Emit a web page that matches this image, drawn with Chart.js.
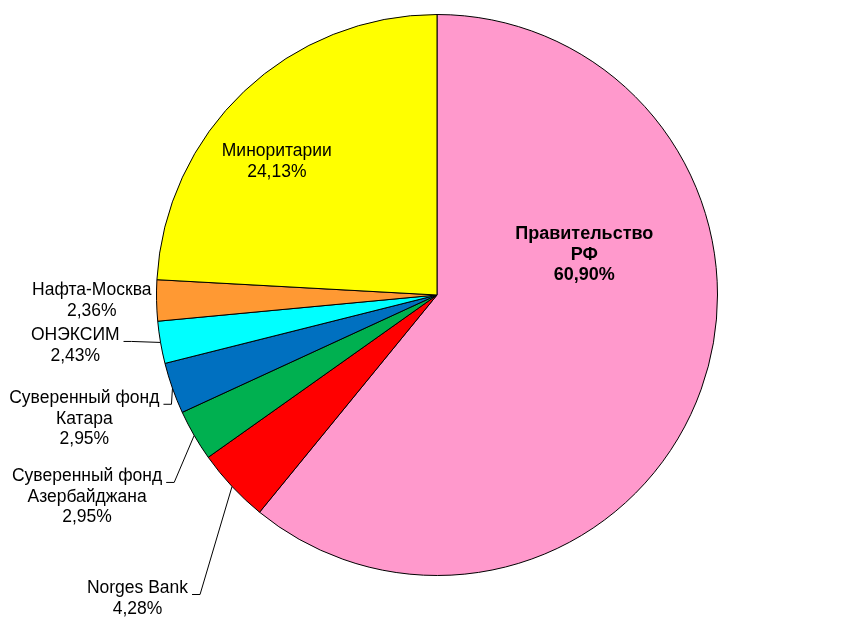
<!DOCTYPE html>
<html>
<head>
<meta charset="utf-8">
<script src="https://cdn.jsdelivr.net/npm/chart.js@4/dist/chart.umd.min.js"></script>
<style>
  html, body { margin: 0; padding: 0; background: #fff; }
  #wrap { width: 848px; height: 634px; }
</style>
</head>
<body>
<div id="wrap"><canvas id="myChart"></canvas></div>
<script>
(() => {
  'use strict';

  // данные
  const labels = [
    ['Правительство', 'РФ'],
    ['Norges Bank'],
    ['Суверенный фонд', 'Азербайджана'],
    ['Суверенный фонд', 'Катара'],
    ['ОНЭКСИМ'],
    ['Нафта-Москва'],
    ['Миноритарии']
  ];
  const shares = [60.90, 4.28, 2.95, 2.95, 2.43, 2.36, 24.13];
  const colors = ['#FF99CC', '#FF0000', '#00B050', '#0070C0', '#00FFFF', '#FF9933', '#FFFF00'];

  // где ставить подписи (внутри: доли радиуса от центра; снаружи: излом выноски от точки на дуге)
  const labelPlace = [
    { inside: true, rx: 0.525, ry: -0.143, bold: true },
    { dx: -32, dy: 108, leader: true },
    { dx: -20, dy: 47, leader: true },
    { dx: -1, dy: 16, leader: true },
    { dx: -29, dy: -1, leader: true },
    { dx: 7, dy: -4, leader: false },
    { inside: true, rx: -0.571, ry: -0.475 }
  ];

  const fmt = v => v.toFixed(2).replace('.', ',') + '%';

  const pieLabels = {
    id: 'pieLabels',
    afterDatasetsDraw(chart) {
      const c = chart.ctx;
      const meta = chart.getDatasetMeta(0);
      c.save();
      c.fillStyle = '#000';
      c.strokeStyle = '#000';
      c.lineWidth = 1;
      c.textBaseline = 'middle';
      const lh = 20.5;
      meta.data.forEach((arc, i) => {
        const p = labelPlace[i];
        const lines = labels[i].concat([fmt(shares[i])]);
        c.font = p.bold ? 'bold 18px "Liberation Sans", Arial, sans-serif' : '17.5px "Liberation Sans", Arial, sans-serif';
        const { x: cx, y: cy, outerRadius: r, startAngle, endAngle } = arc.getProps(['x', 'y', 'outerRadius', 'startAngle', 'endAngle'], true);
        if (p.inside) {
          const x = cx + p.rx * r;
          const y = cy + p.ry * r;
          c.textAlign = 'center';
          lines.forEach((t, k) => c.fillText(t, x, y + (k - (lines.length - 1) / 2) * lh));
          return;
        }
        const mid = (startAngle + endAngle) / 2;
        const ax = cx + Math.cos(mid) * r;
        const ay = cy + Math.sin(mid) * r;
        const ex = ax + p.dx;
        const ey = ay + p.dy;
        if (p.leader) {
          c.beginPath();
          c.moveTo(ax, ay);
          c.lineTo(ex, ey);
          c.lineTo(ex - 8, ey);
          c.stroke();
        }
        const w = Math.max(...lines.map(t => c.measureText(t).width));
        const mx = ex - 12 - w / 2;
        c.textAlign = 'center';
        lines.forEach((t, k) => c.fillText(t, mx, ey - 6 + k * lh));
      });
      c.restore();
    }
  };

  const ctx = document.getElementById('myChart');
  new Chart(ctx, {
    type: 'pie',
    data: {
      labels: labels.map(l => l.join(' ')),
      datasets: [{
        data: shares,
        backgroundColor: colors,
        borderColor: '#000',
        borderWidth: 1,
        offset: 0,
        hoverOffset: 0
      }]
    },
    options: {
      responsive: true,
      maintainAspectRatio: false,
      animation: false,
      layout: { padding: { top: 14, bottom: 58, left: 156, right: 130 } },
      plugins: {
        legend: { display: false },
        tooltip: { enabled: false }
      }
    },
    plugins: [pieLabels]
  });
})();
</script>
</body>
</html>
